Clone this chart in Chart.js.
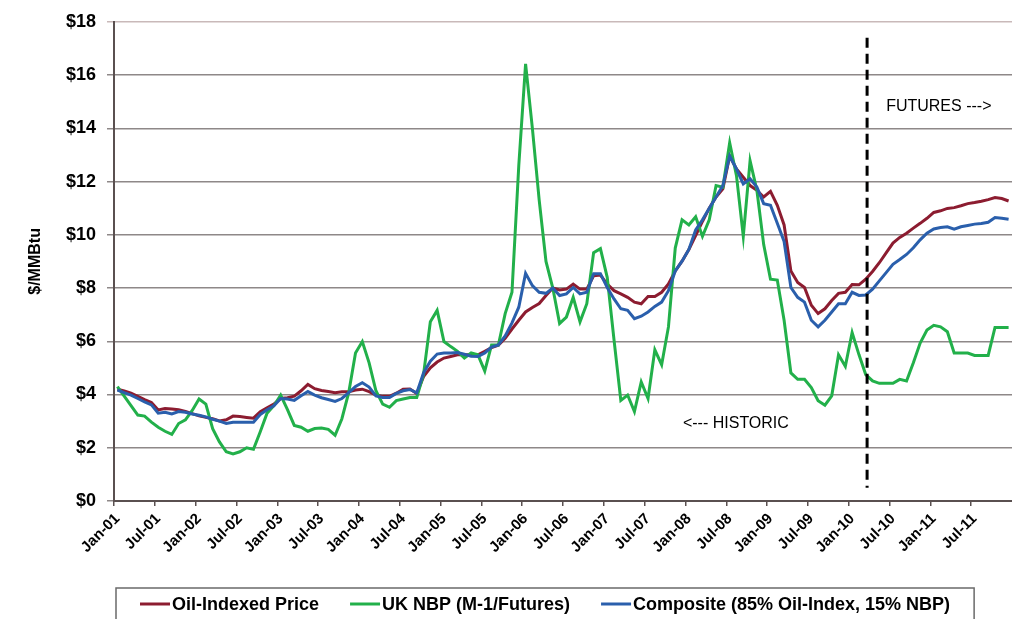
<!DOCTYPE html>
<html>
<head>
<meta charset="utf-8">
<script src="https://cdn.jsdelivr.net/npm/chart.js@4.4.1/dist/chart.umd.min.js"></script>
<style>
  html, body { margin: 0; padding: 0; background: #fff; }
  #wrap { width: 1012px; height: 619px; }
</style>
</head>
<body>
<div id="wrap"><canvas id="gasChart" width="1012" height="619"></canvas></div>
<script>
// ---- Categories: monthly, Jan-01 .. Dec-11 ----
const monthNames = ["Jan", "Feb", "Mar", "Apr", "May", "Jun", "Jul", "Aug", "Sep", "Oct", "Nov", "Dec"];
const yearLabels = ["01", "02", "03", "04", "05", "06", "07", "08", "09", "10", "11"];
const categories = [];
yearLabels.forEach(yr => monthNames.forEach(m => categories.push(m + "-" + yr)));

// ---- Series ($/MMBtu) ----
const oilIndexed = [
  4.20, 4.13, 4.05, 3.93, 3.81, 3.70, 3.42, 3.47, 3.46, 3.43, 3.36, 3.28,
  3.20, 3.14, 3.09, 3.01, 3.05, 3.19, 3.17, 3.14, 3.11, 3.35, 3.50, 3.64,
  3.85, 3.88, 3.94, 4.14, 4.38, 4.22, 4.15, 4.11, 4.07, 4.10, 4.10, 4.17,
  4.20, 4.11, 3.98, 3.93, 3.93, 4.05, 4.20, 4.21, 4.04, 4.67, 5.00, 5.22,
  5.37, 5.43, 5.49, 5.49, 5.49, 5.49, 5.62, 5.76, 5.85, 6.11, 6.46, 6.79,
  7.10, 7.27, 7.42, 7.72, 8.00, 7.93, 7.96, 8.15, 7.96, 7.96, 8.46, 8.49,
  8.15, 7.90, 7.78, 7.65, 7.47, 7.41, 7.68, 7.68, 7.84, 8.15, 8.64, 9.01,
  9.45, 9.97, 10.50, 11.00, 11.42, 11.73, 12.96, 12.47, 12.16, 11.85, 11.67, 11.42,
  11.63, 11.11, 10.37, 8.64, 8.21, 8.02, 7.35, 7.04, 7.22, 7.53, 7.80, 7.84,
  8.13, 8.12, 8.33, 8.62, 8.95, 9.32, 9.69, 9.90, 10.06, 10.25, 10.43, 10.62,
  10.84, 10.90, 10.99, 11.02, 11.09, 11.17, 11.21, 11.26, 11.32, 11.40, 11.36, 11.27
];
const ukNbp = [
  4.30, 3.94, 3.58, 3.23, 3.19, 2.96, 2.77, 2.62, 2.50, 2.91, 3.05, 3.40,
  3.83, 3.64, 2.72, 2.22, 1.85, 1.77, 1.85, 2.00, 1.94, 2.60, 3.30, 3.58,
  3.98, 3.43, 2.84, 2.77, 2.62, 2.72, 2.74, 2.69, 2.47, 3.09, 4.07, 5.56,
  5.99, 5.19, 4.14, 3.64, 3.52, 3.77, 3.83, 3.89, 3.89, 4.75, 6.73, 7.16,
  5.99, 5.80, 5.62, 5.37, 5.56, 5.49, 4.88, 5.86, 5.86, 7.04, 7.84, 12.60,
  16.42, 14.00, 11.30, 9.00, 8.00, 6.67, 6.91, 7.65, 6.73, 7.41, 9.33, 9.48,
  8.40, 6.05, 3.78, 3.98, 3.36, 4.47, 3.85, 5.68, 5.12, 6.54, 9.50, 10.56,
  10.37, 10.68, 9.94, 10.56, 11.85, 11.79, 13.46, 12.22, 9.94, 12.78, 11.67, 9.63,
  8.33, 8.30, 6.79, 4.81, 4.57, 4.57, 4.26, 3.77, 3.60, 3.95, 5.49, 5.06,
  6.33, 5.50, 4.75, 4.51, 4.42, 4.42, 4.42, 4.57, 4.51, 5.19, 5.93, 6.42,
  6.60, 6.54, 6.36, 5.56, 5.56, 5.56, 5.47, 5.47, 5.47, 6.52, 6.52, 6.52
];
const composite = [
  4.17, 4.07, 3.98, 3.85, 3.72, 3.61, 3.30, 3.33, 3.27, 3.36, 3.33, 3.27,
  3.22, 3.16, 3.07, 3.00, 2.91, 2.96, 2.96, 2.96, 2.96, 3.25, 3.43, 3.58,
  3.85, 3.83, 3.78, 3.95, 4.11, 3.98, 3.88, 3.81, 3.74, 3.85, 4.07, 4.30,
  4.44, 4.28, 3.95, 3.89, 3.89, 4.04, 4.14, 4.19, 4.06, 4.81, 5.25, 5.52,
  5.56, 5.56, 5.58, 5.51, 5.44, 5.43, 5.56, 5.78, 5.86, 6.20, 6.69, 7.28,
  8.55, 8.09, 7.84, 7.80, 8.00, 7.72, 7.78, 8.02, 7.78, 7.84, 8.54, 8.54,
  8.02, 7.59, 7.22, 7.16, 6.85, 6.94, 7.10, 7.31, 7.47, 7.90, 8.64, 9.01,
  9.45, 10.18, 10.56, 11.00, 11.42, 11.85, 12.96, 12.47, 11.91, 12.10, 11.79, 11.17,
  11.11, 10.43, 9.75, 8.02, 7.65, 7.47, 6.79, 6.54, 6.79, 7.10, 7.41, 7.41,
  7.84, 7.72, 7.74, 7.96, 8.27, 8.58, 8.89, 9.07, 9.26, 9.51, 9.81, 10.06,
  10.22, 10.27, 10.30, 10.21, 10.30, 10.35, 10.40, 10.42, 10.47, 10.65, 10.62, 10.58
];

const seriesNames = ["Oil-Indexed Price", "UK NBP (M-1/Futures)", "Composite (85% Oil-Index, 15% NBP)"];
const seriesColors = ["#8c1c30", "#22b04a", "#2a5fac"];

// historic / futures divide (category index) and its notes
const futuresStart = 110.2;
const dividerRange = [0.5, 17.4];
const futuresNote = { text: "FUTURES --->", at: 113, value: 14.8 };
const historicNote = { text: "<--- HISTORIC", at: 98.7, value: 2.9 };

const FONT = '"Liberation Sans", Arial, sans-serif';

// ---- dashed divider + notes ----
const dividerPlugin = {
  id: "divider",
  afterDatasetsDraw(chart) {
    const { ctx, scales: { x, y } } = chart;
    const px = x.getPixelForValue(futuresStart);
    ctx.save();
    ctx.strokeStyle = "#000";
    ctx.lineWidth = 3;
    ctx.setLineDash([10, 6]);
    ctx.beginPath();
    ctx.moveTo(px, y.getPixelForValue(dividerRange[1]));
    ctx.lineTo(px, y.getPixelForValue(dividerRange[0]));
    ctx.stroke();
    ctx.setLineDash([]);
    ctx.font = "16px " + FONT;
    ctx.fillStyle = "#000";
    ctx.textBaseline = "middle";
    ctx.textAlign = "left";
    ctx.fillText(futuresNote.text, x.getPixelForValue(futuresNote.at), y.getPixelForValue(futuresNote.value));
    ctx.textAlign = "right";
    ctx.fillText(historicNote.text, x.getPixelForValue(historicNote.at), y.getPixelForValue(historicNote.value));
    ctx.restore();
  }
};

// ---- boxed legend under the axis ----
const boxLegend = {
  id: "boxLegend",
  afterDraw(chart) {
    const ctx = chart.ctx;
    const startX = 140, midY = 604;
    let x = startX;
    ctx.save();
    ctx.font = "bold 18px " + FONT;
    ctx.textBaseline = "middle";
    ctx.textAlign = "left";
    chart.data.datasets.forEach((ds, i) => {
      ctx.strokeStyle = ds.borderColor;
      ctx.lineWidth = 3;
      ctx.beginPath();
      ctx.moveTo(x, midY);
      ctx.lineTo(x + 30, midY);
      ctx.stroke();
      x += 32;
      ctx.fillStyle = "#000";
      ctx.fillText(ds.label, x, midY + 1);
      x += ctx.measureText(ds.label).width;
      if (i < chart.data.datasets.length - 1) x += 31;
    });
    ctx.strokeStyle = "#6a6a6a";
    ctx.lineWidth = 1.5;
    ctx.strokeRect(startX - 24, 588, x - startX + 48, 45);
    ctx.restore();
  }
};

const ctxGas = document.getElementById("gasChart").getContext("2d");
new Chart(ctxGas, {
  type: "line",
  data: {
    labels: categories,
    datasets: [
      { label: seriesNames[0], data: oilIndexed, borderColor: seriesColors[0], backgroundColor: seriesColors[0], order: 3 },
      { label: seriesNames[1], data: ukNbp, borderColor: seriesColors[1], backgroundColor: seriesColors[1], order: 2 },
      { label: seriesNames[2], data: composite, borderColor: seriesColors[2], backgroundColor: seriesColors[2], order: 1 }
    ]
  },
  options: {
    responsive: false,
    animation: false,
    devicePixelRatio: 1,
    layout: { padding: { top: 15, right: 0, bottom: 0, left: 0 } },
    elements: {
      line: { borderWidth: 3, tension: 0, fill: false },
      point: { radius: 0 }
    },
    plugins: {
      legend: { display: false },
      tooltip: { enabled: false }
    },
    scales: {
      x: {
        type: "category",
        offset: true,
        afterFit: s => { s.height = 118; s.paddingRight = 0; },
        border: { display: true, color: "#5a5050", width: 2 },
        grid: {
          offset: true,
          drawOnChartArea: false,
          drawTicks: true,
          tickLength: 5,
          lineWidth: 1.5,
          color: c => (c.index % 6 === 0 ? "#5a5050" : "rgba(0,0,0,0)")
        },
        ticks: {
          autoSkip: false,
          minRotation: 45,
          maxRotation: 45,
          padding: 4,
          color: "#000",
          font: { family: FONT, size: 15, weight: "bold" },
          callback: (v, i) => (i % 6 === 0 ? categories[i] : "")
        }
      },
      y: {
        min: 0,
        max: 18,
        afterFit: s => { s.width = 114; },
        border: { display: true, color: "#5a5050", width: 2 },
        grid: {
          drawTicks: true,
          tickLength: 7,
          lineWidth: 1.5,
          color: c => (c.tick && c.tick.value === 18 ? "#c9b9b9" : "#8e8888")
        },
        ticks: {
          stepSize: 2,
          padding: 11,
          color: "#000",
          font: { family: FONT, size: 18, weight: "bold" },
          callback: v => "$" + v
        },
        title: {
          display: true,
          text: "$/MMBtu",
          color: "#000",
          font: { family: FONT, size: 16, weight: "bold" },
          padding: { top: 26, bottom: 0 }
        }
      }
    }
  },
  plugins: [dividerPlugin, boxLegend]
});
</script>
</body>
</html>
